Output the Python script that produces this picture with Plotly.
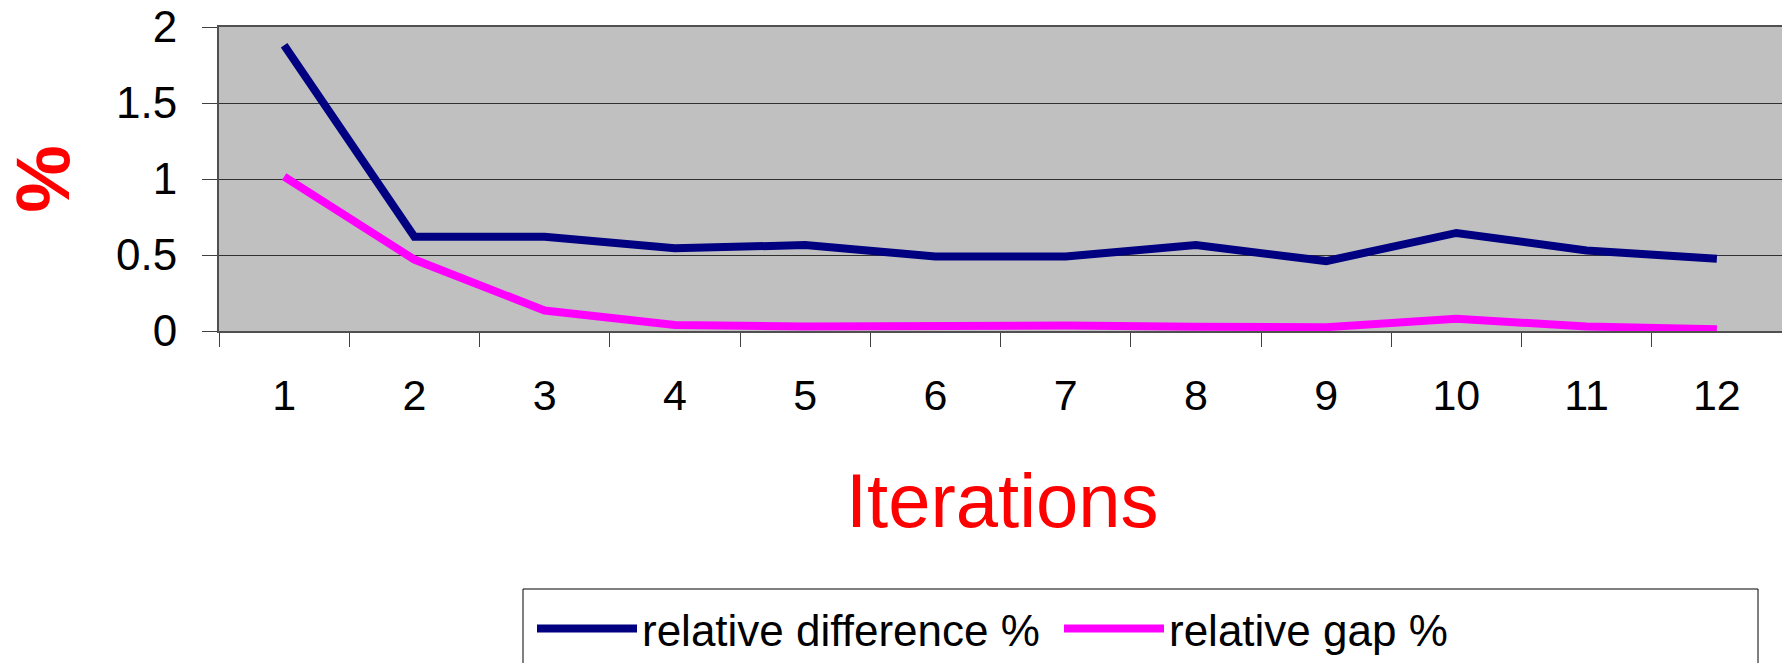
import plotly.graph_objects as go

iterations = ["1", "2", "3", "4", "5", "6", "7", "8", "9", "10", "11", "12"]
relative_difference = [1.88, 0.62, 0.62, 0.545, 0.565, 0.49, 0.49, 0.565, 0.46, 0.645, 0.53, 0.475]
relative_gap = [1.015, 0.47, 0.135, 0.04, 0.03, 0.036, 0.036, 0.028, 0.025, 0.08, 0.03, 0.012]
y_ticks = [0, 0.5, 1, 1.5, 2]
y_tick_labels = ["0", "0.5", "1", "1.5", "2"]

W, H = 1782, 663
L, R, T, B = 219, 0, 27, 332
pw = W - L - R
ph = H - T - B


def px_x(x):
    return (x - L) / pw


def px_y(y):
    return (H - B - y) / ph


fig = go.Figure()
fig.add_trace(go.Scatter(x=iterations, y=relative_difference, mode="lines",
                         name="relative difference %",
                         line=dict(color="#000080", width=8)))
fig.add_trace(go.Scatter(x=iterations, y=relative_gap, mode="lines",
                         name="relative gap %",
                         line=dict(color="#FF00FF", width=8)))

fig.add_shape(type="rect", xref="paper", yref="paper",
              x0=px_x(523), x1=px_x(1758), y0=px_y(589), y1=px_y(700),
              line=dict(color="#000000", width=1), fillcolor="white", layer="below")

fig.add_annotation(text="Iterations", xref="paper", yref="paper",
                   x=px_x(1002), y=px_y(500), xanchor="center", yanchor="middle",
                   showarrow=False, font=dict(size=76, color="#FF0000"))

fig.update_layout(
    width=W, height=H,
    margin=dict(l=L, r=R, t=T, b=B, pad=0, autoexpand=False),
    paper_bgcolor="white",
    plot_bgcolor="#C0C0C0",
    font=dict(family="Liberation Sans, Arial, sans-serif", color="black"),
    showlegend=True,
    legend=dict(orientation="h", x=532 / W, xanchor="left", xref="container",
                y=(H - 629) / H, yanchor="middle", yref="container",
                font=dict(size=44, color="black"),
                bgcolor="rgba(0,0,0,0)", borderwidth=0,
                itemwidth=100, entrywidth=412, entrywidthmode="pixels",
                tracegroupgap=0),
    xaxis=dict(type="category", tickson="boundaries", ticks="outside",
               range=[-0.5, 11.5],
               ticklen=14, tickcolor="#404040", tickwidth=1,
               showgrid=False, showline=True, linecolor="#505050", linewidth=2,
               mirror=True,
               tickfont=dict(size=43), ticklabelstandoff=25),
    yaxis=dict(range=[0, 2], tickvals=y_ticks, ticktext=y_tick_labels,
               ticks="outside", ticklen=15, tickcolor="#404040", tickwidth=1,
               showgrid=True, gridcolor="#303030", gridwidth=1,
               showline=True, linecolor="#505050", linewidth=2,
               tickfont=dict(size=44), ticklabelstandoff=16,
               ticklabeloverflow="allow",
               zeroline=False,
               title=dict(text="<b>%</b>", font=dict(size=76, color="#FF0000"), standoff=40)),
)

fig.write_html("out.html",
               config={"displayModeBar": False},
               post_script="document.body.style.margin='0';document.body.style.overflow='hidden';")
